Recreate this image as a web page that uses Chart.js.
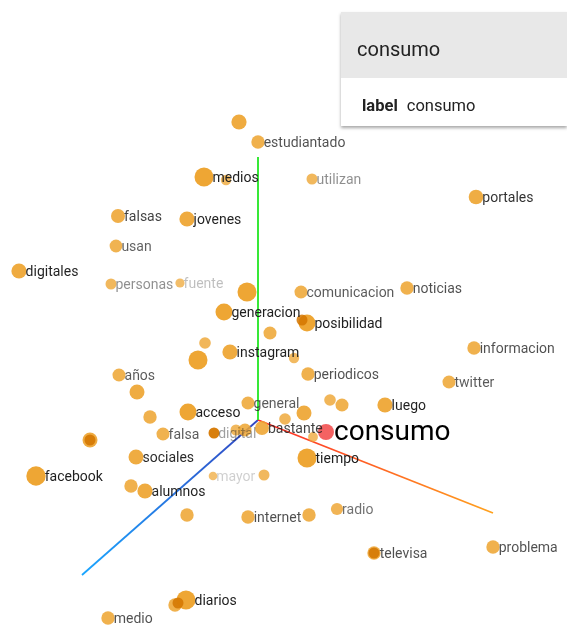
<!DOCTYPE html>
<html>
<head>
<meta charset="utf-8">
<script src="https://cdn.jsdelivr.net/npm/chart.js@4"></script>
<style>
  html, body { margin: 0; padding: 0; background: #fff; }
  .wrap { position: relative; width: 567px; height: 626px; overflow: hidden; font-family: Roboto, sans-serif; }
  .card { position: absolute; left: 341px; top: 12px; width: 226px; height: 114px; background: #fff;
          box-shadow: 0 2px 3px rgba(0,0,0,0.35); }
  .card .head { height: 66px; background: #e8e8e8; box-sizing: border-box; padding: 8px 0 0 16px;
                display: flex; align-items: center; font-size: 20px; color: #222; }
  .card .row { height: 48px; box-sizing: border-box; padding: 6px 0 0 21px; display: flex; align-items: center;
               font-size: 16.5px; color: #222; }
  .card .row b { margin-right: 9px; }
</style>
</head>
<body>
<div class="wrap">
  <canvas id="projector"></canvas>
  <div class="card">
    <div class="head">consumo</div>
    <div class="row"><b>label</b>consumo</div>
  </div>
</div>
<script>
// projected word embedding (origin = axes origin, y up), depth: 0 far .. 1 near
const words = [
  '', 'estudiantado', 'medios', '', 'utilizan', 'portales', 'falsas', 'jovenes', 'usan', 'digitales',
  'personas', 'fuente', '', 'comunicacion', 'noticias', 'generacion', 'posibilidad', '', 'informacion', 'instagram',
  '', '', '', 'periodicos', 'años', 'twitter', '', 'general', '', '',
  'luego', 'acceso', '', '', '', 'bastante', '', 'falsa', 'digital', '',
  '', '', 'sociales', 'tiempo', 'facebook', 'mayor', '', '', 'alumnos', '',
  'internet', '', 'radio', 'televisa', 'problema', 'diarios', '', 'medio'
]
const projX = [
  -19, 0, -54, -32, 54, 218, -140, -71, -142, -239,
  -147, -78, -11, 43, 149, -34, 49, 12, 216, -28,
  -53, -60, 36, 50, -139, 191, -121, -10, 72, 84,
  127, -70, -108, 46, 27, 4, 55, -95, -44, -22,
  -13, -168, -122, 49, -222, -45, 6, -127, -113, -71,
  -10, 51, 79, 116, 235, -72, -83, -150
]
const projY = [
  298, 278, 243, 240, 241, 223, 204, 201, 174, 149,
  136, 137, 128, 128, 132, 108, 97, 87, 72, 68,
  77, 60, 62, 46, 45, 38, 28, 17, 20, 15,
  15, 8, 3, 7, 1, -8, -17, -14, -13, -10,
  -10, -20, -37, -38, -56, -56, -55, -66, -71, -95,
  -97, -95, -89, -133, -127, -180, -185, -198
]
const depth = [
  0.6, 0.45, 0.92, 0.2, 0.25, 0.55, 0.5, 0.6, 0.4, 0.6,
  0.25, 0.1, 0.92, 0.42, 0.45, 0.75, 0.75, 0.42, 0.45, 0.6,
  0.3, 0.92, 0.2, 0.45, 0.42, 0.42, 0.58, 0.42, 0.3, 0.42,
  0.6, 0.75, 0.45, 0.58, 0.3, 0.5, 0.15, 0.42, 0.2, 0.25,
  0.42, 0.58, 0.58, 0.92, 0.95, 0.05, 0.25, 0.45, 0.6, 0.45,
  0.45, 0.45, 0.35, 0.45, 0.45, 0.92, 0.45, 0.45
]

// points drawn on top of each other (darker spots)
const overlapX = [44, -44, -168, 116, -80]
const overlapY = [100, -13, -20, -133, -183]

// selected point
const selectedWord = 'consumo'
const selectedX = 68
const selectedY = -12

// axis end points (the origin is 0,0)
const axisXEnd = [235, -93]
const axisYEnd = [0, 263]
const axisZEnd = [-176, -155]

const radiusOf = d => 4 + 6 * d

function axisColor (end, c0, c1) {
  return function (context) {
    const chart = context.chart
    if (!chart.chartArea) return c0
    const xs = chart.scales.x
    const ys = chart.scales.y
    const g = chart.ctx.createLinearGradient(
      xs.getPixelForValue(0), ys.getPixelForValue(0),
      xs.getPixelForValue(end[0]), ys.getPixelForValue(end[1]))
    g.addColorStop(0, c0)
    g.addColorStop(1, c1)
    return g
  }
}

function axisDataset (end, c0, c1) {
  return {
    type: 'line',
    data: [{ x: 0, y: 0 }, { x: end[0], y: end[1] }],
    borderColor: axisColor(end, c0, c1),
    borderWidth: 1.8,
    pointRadius: 0,
    order: 3
  }
}

const wordLabels = {
  id: 'wordLabels',
  afterDatasetsDraw (chart) {
    const ctx = chart.ctx
    const meta = chart.getDatasetMeta(3)
    ctx.save()
    ctx.textBaseline = 'middle'
    ctx.font = '14px Roboto'
    meta.data.forEach((el, i) => {
      if (!words[i]) return
      const a = Math.min(1, 0.15 + 1.4 * depth[i])
      ctx.fillStyle = 'rgba(30,30,30,' + a + ')'
      ctx.fillText(words[i], el.x + radiusOf(depth[i]) - 1, el.y + 1)
    })
    const sel = chart.getDatasetMeta(5).data[0]
    ctx.font = '28px Roboto'
    ctx.fillStyle = '#000'
    ctx.fillText(selectedWord, sel.x + 8, sel.y + 1)
    ctx.restore()
  }
}

const canvas = document.getElementById('projector')
canvas.width = 567
canvas.height = 626

new Chart(canvas.getContext('2d'), {
  type: 'scatter',
  data: {
    datasets: [
      axisDataset(axisYEnd, '#22e622', '#22e622'),
      axisDataset(axisXEnd, '#ff2a2a', '#ffa21e'),
      axisDataset(axisZEnd, '#3344c0', '#1aa6ff'),
      {
        data: projX.map((x, i) => ({ x: x, y: projY[i] })),
        pointRadius: ctx => radiusOf(depth[ctx.dataIndex]),
        backgroundColor: ctx => 'rgba(238,166,52,' + Math.min(1, 0.7 + 0.4 * depth[ctx.dataIndex]) + ')',
        borderWidth: 0,
        order: 2
      },
      {
        data: overlapX.map((x, i) => ({ x: x, y: overlapY[i] })),
        pointRadius: 5.5,
        backgroundColor: 'rgba(212,118,0,0.85)',
        borderWidth: 0,
        order: 1
      },
      {
        data: [{ x: selectedX, y: selectedY }],
        pointRadius: 8,
        backgroundColor: '#f46262',
        borderWidth: 0,
        order: 0
      }
    ]
  },
  options: {
    responsive: false,
    animation: false,
    events: [],
    layout: { padding: 0, autoPadding: false },
    scales: {
      x: { type: 'linear', display: false, min: -258, max: 309 },
      y: { type: 'linear', display: false, min: -206, max: 420 }
    },
    plugins: {
      legend: { display: false },
      tooltip: { enabled: false }
    }
  },
  plugins: [wordLabels]
})
</script>
</body>
</html>
